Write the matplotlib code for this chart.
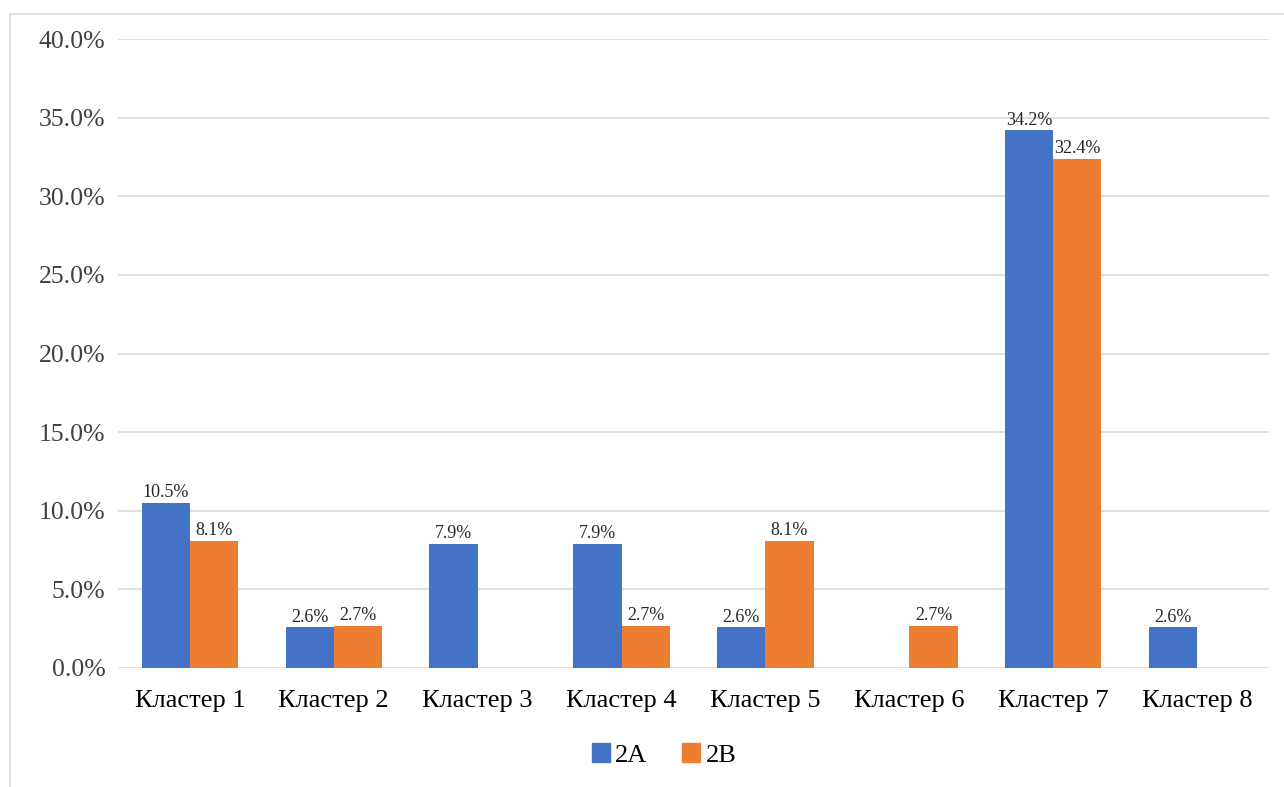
import matplotlib
matplotlib.use("Agg")
import matplotlib.pyplot as plt
from matplotlib.lines import Line2D
import numpy as np

categories = ["Кластер 1", "Кластер 2", "Кластер 3", "Кластер 4",
              "Кластер 5", "Кластер 6", "Кластер 7", "Кластер 8"]
series_2a = [10.5, 2.6, 7.9, 7.9, 2.6, None, 34.2, 2.6]
series_2b = [8.1, 2.7, None, 2.7, 8.1, 2.7, 32.4, None]
yticks = [0, 5, 10, 15, 20, 25, 30, 35, 40]

plt.rcParams['font.family'] = ['Liberation Serif', 'DejaVu Serif']

W, H = 1284, 787
fig = plt.figure(figsize=(W / 100, H / 100), dpi=100)
ax = fig.add_axes([118 / W, 1 - 668 / H, (1269 - 118) / W, (668 - 39) / H])

blue = "#4472C4"
orange = "#ED7D31"
x = np.arange(len(categories))
bw = 0.335

def draw(vals, offset, color, label):
    xs = [xi + offset for xi, v in zip(x, vals) if v is not None]
    vs = [v for v in vals if v is not None]
    bars = ax.bar(xs, vs, width=bw, color=color, label=label, zorder=3)
    for xi, v in zip(xs, vs):
        ax.text(xi, v + 0.1, f"{v:.1f}%", ha="center", va="bottom",
                fontsize=13, color="#262626", zorder=4)
    return bars

draw(series_2a, -bw / 2, blue, "2A")
draw(series_2b, bw / 2, orange, "2B")

ax.set_xlim(-0.5, len(categories) - 0.5)
ax.set_ylim(0, 40)
ax.set_yticks(yticks)
ax.set_yticklabels([f"{t:.1f}%" for t in yticks], fontsize=18.5, color="#404040")
ax.set_xticks(x)
ax.set_xticklabels(categories, fontsize=19, color="#000000")
ax.tick_params(axis="both", length=0)
ax.tick_params(axis="y", pad=9)
ax.tick_params(axis="x", pad=16)
ax.grid(axis="y", color="#e0e0e0", linewidth=1.5, zorder=0)
for s in ax.spines.values():
    s.set_visible(False)

handles = [plt.Rectangle((0, 0), 1, 1, color=blue), plt.Rectangle((0, 0), 1, 1, color=orange)]
fig.legend(handles, ["2A", "2B"], loc="center", bbox_to_anchor=(664 / W, 1 - 755 / H),
           ncol=2, frameon=False, fontsize=19, handlelength=0.7, handleheight=0.7,
           handletextpad=0.2, columnspacing=1.3)

# outer frame (top and left)
fig.add_artist(Line2D([10 / W, 1], [1 - 14 / H, 1 - 14 / H], color="#e0e0e0", linewidth=1.5,
                      transform=fig.transFigure))
fig.add_artist(Line2D([10 / W, 10 / W], [0, 1 - 14 / H], color="#e0e0e0", linewidth=1.5,
                      transform=fig.transFigure))

fig.savefig("out.png", dpi=100)
